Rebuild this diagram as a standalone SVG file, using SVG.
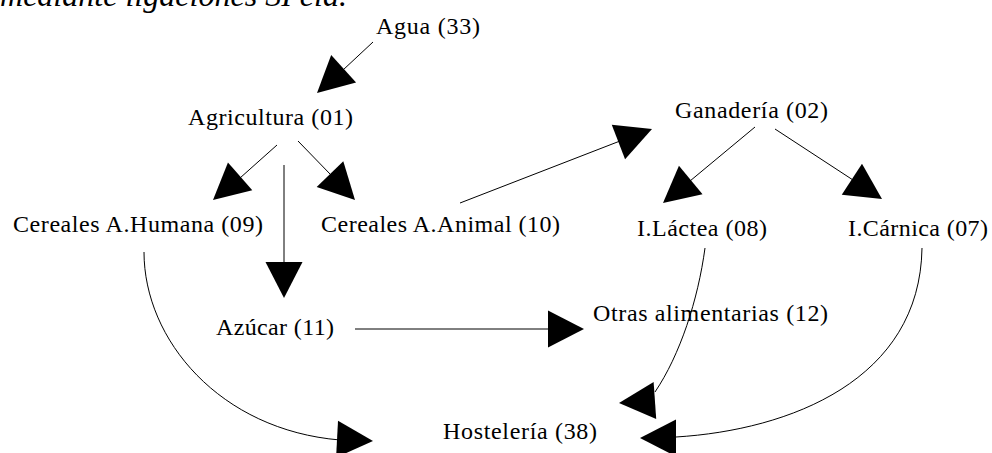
<svg xmlns="http://www.w3.org/2000/svg" xmlns:xlink="http://www.w3.org/1999/xlink" width="992" height="453" viewBox="0 0 992 453">
  <style>
    .lbl { font-family: "Liberation Serif", "Times New Roman", serif; font-size: 24px; fill: #000; }
    .cap { font-family: "Liberation Serif", "Times New Roman", serif; font-size: 32px; font-style: italic; fill: #000; }
    .edge { fill: none; stroke: #000; stroke-width: 1; }
    .head { fill: #000; stroke: none; }
  </style>
  <defs>
    <!-- filled arrowhead, tip at origin pointing along +x -->
    <path id="head" class="head" d="M0,0 L-36,-18.5 L-36,18.5 Z"/>
  </defs>
  <rect width="992" height="453" fill="#fff"/>

  <text class="cap" x="0" y="6" textLength="347" lengthAdjust="spacing">mediante ligaciones SI ela.</text>

  <g id="connectors">
    <!-- Agua -> Agricultura -->
    <line class="edge" x1="373" y1="42" x2="343" y2="70"/>
    <use xlink:href="#head" transform="translate(317,93) rotate(137.7)"/>
    <!-- Agricultura -> Cereales A.Humana -->
    <line class="edge" x1="277" y1="145" x2="240" y2="178"/>
    <use xlink:href="#head" transform="translate(213,200) rotate(138.9)"/>
    <!-- Agricultura -> Cereales A.Animal -->
    <line class="edge" x1="298" y1="141" x2="331" y2="175"/>
    <use xlink:href="#head" transform="translate(355,200) rotate(46)"/>
    <!-- Agricultura -> Azúcar -->
    <line class="edge" x1="284" y1="165" x2="284" y2="264"/>
    <use xlink:href="#head" transform="translate(284,298) rotate(90)"/>
    <!-- Cereales A.Animal -> Ganadería -->
    <line class="edge" x1="460" y1="203" x2="620" y2="141"/>
    <use xlink:href="#head" transform="translate(652,129) rotate(-21.1)"/>
    <!-- Ganadería -> I.Láctea -->
    <line class="edge" x1="755" y1="127" x2="690" y2="181"/>
    <use xlink:href="#head" transform="translate(663,203) rotate(140.4)"/>
    <!-- Ganadería -> I.Cárnica -->
    <line class="edge" x1="775" y1="129" x2="853" y2="180"/>
    <use xlink:href="#head" transform="translate(882,199) rotate(33.2)"/>
    <!-- Azúcar -> Otras alimentarias -->
    <line class="edge" x1="355" y1="329" x2="550" y2="329"/>
    <use xlink:href="#head" transform="translate(584,329) rotate(0)"/>
    <!-- Cereales A.Humana -> Hostelería -->
    <path class="edge" d="M144,252 C144,340 220,430 340,440"/>
    <use xlink:href="#head" transform="translate(373,441) rotate(3)"/>
    <!-- I.Láctea -> Hostelería -->
    <path class="edge" d="M705,248 C698,300 680,355 655,392"/>
    <use xlink:href="#head" transform="translate(619,403) rotate(176)"/>
    <!-- I.Cárnica -> Hostelería -->
    <path class="edge" d="M922,248 C920,380 790,430 676,437"/>
    <use xlink:href="#head" transform="translate(640,438) rotate(180)"/>
  </g>

  <g id="agua"><text class="lbl" x="376" y="34" textLength="104" lengthAdjust="spacing">Agua (33)</text></g>
  <g id="agricultura"><text class="lbl" x="188" y="125" textLength="165" lengthAdjust="spacing">Agricultura (01)</text></g>
  <g id="cereales-humana"><text class="lbl" x="13" y="232" textLength="250" lengthAdjust="spacing">Cereales A.Humana (09)</text></g>
  <g id="cereales-animal"><text class="lbl" x="321" y="232" textLength="239" lengthAdjust="spacing">Cereales A.Animal (10)</text></g>
  <g id="ganaderia"><text class="lbl" x="675" y="118" textLength="153" lengthAdjust="spacing">Ganadería (02)</text></g>
  <g id="lactea"><text class="lbl" x="637" y="236" textLength="130" lengthAdjust="spacing">I.Láctea (08)</text></g>
  <g id="carnica"><text class="lbl" x="848" y="236" textLength="140" lengthAdjust="spacing">I.Cárnica (07)</text></g>
  <g id="azucar"><text class="lbl" x="216" y="335" textLength="118" lengthAdjust="spacing">Azúcar (11)</text></g>
  <g id="otras"><text class="lbl" x="593" y="321" textLength="235" lengthAdjust="spacing">Otras alimentarias (12)</text></g>
  <g id="hosteleria"><text class="lbl" x="443" y="439" textLength="154" lengthAdjust="spacing">Hostelería (38)</text></g>
</svg>
